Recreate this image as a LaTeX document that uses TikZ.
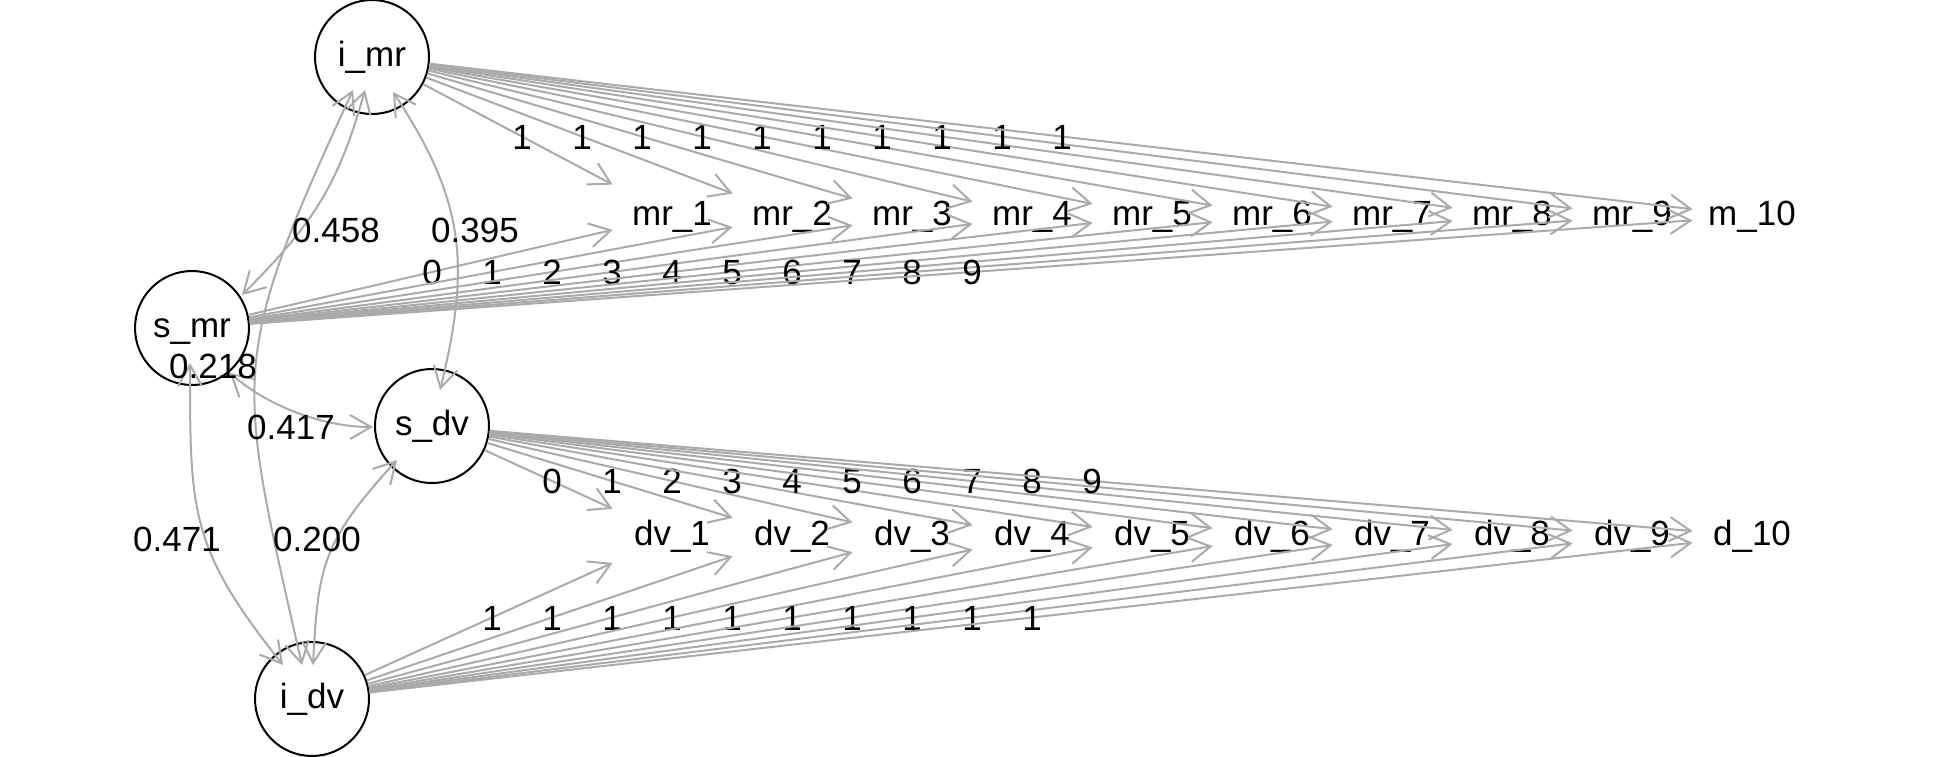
\documentclass[tikz,border=0pt]{standalone}
\usepackage{fontspec}
\setmainfont{Liberation Sans}
\usetikzlibrary{arrows.meta,calc}
\definecolor{edgegray}{RGB}{170,170,170}
\begin{document}
\begin{tikzpicture}[x=0.5pt,y=-0.5pt,
  font=\fontsize{17.5}{21}\selectfont,
  latent/.style={circle, draw=black, line width=1pt, minimum size=57pt, inner sep=0pt, text height=12.5pt, text depth=3pt},
  manifest/.style={rectangle, minimum width=59pt, minimum height=36pt, inner sep=0pt, text height=12.5pt, text depth=3pt},
  lbl/.style={inner sep=0pt, text height=12.5pt, text depth=0pt},
  tipv/.tip={Straight Barb[length=10.5pt,width=12pt]},
  load/.style={draw=edgegray, line width=1pt, -tipv},
  cov/.style={draw=edgegray, line width=1pt, tipv-tipv}]
\useasboundingbox (0,0) rectangle (1944,756);

% latent variables
\node[latent] (imr) at (372,57) {i\_mr};
\node[latent] (smr) at (192,328) {s\_mr};
\node[latent] (sdv) at (432,426) {s\_dv};
\node[latent] (idv) at (312,699) {i\_dv};

% indicators
\foreach \k in {1,...,9}{
  \node[manifest] (mr\k) at ({672+120*(\k-1)},216) {mr\_\k};
  \node[manifest] (dv\k) at ({672+120*(\k-1)},536) {dv\_\k};
}
\node[manifest] (mr10) at (1752,216) {m\_10};
\node[manifest] (dv10) at (1752,536) {d\_10};

% loadings
\foreach \k [evaluate=\k as \v using int(\k-1)] in {1,...,10}{
  \draw[load] (imr) -- (mr\k);
  \draw[load] (smr) -- (mr\k);
  \draw[load] (sdv) -- (dv\k);
  \draw[load] (idv) -- (dv\k);
  \node[lbl] (li\k) at ($(imr)!0.5!(mr\k)$) {1};
  \node[lbl] (ls\k) at ($(smr)!0.5!(mr\k)$) {\v};
  \node[lbl] (lsd\k) at ($(sdv)!0.5!(dv\k)$) {\v};
  \node[lbl] (lid\k) at ($(idv)!0.5!(dv\k)$) {1};
}

% covariances
\draw[cov] ($(imr)+(-7,33)$) .. controls (338,186) and (313,224) .. ($(smr)+(50,-33)$);
\draw[cov] ($(imr)+(-19,33)$) .. controls (227,363) and (236,374) .. ($(idv)+(-10,-34)$);
\draw[cov] ($(imr)+(21,35)$) .. controls (464.5,200) and (471,264) .. ($(sdv)+(8,-36)$);
\draw[cov] ($(smr)+(38,45)$) .. controls (267.5,406) and (323,427) .. ($(sdv)+(-59,1)$);
\draw[cov] ($(smr)+(-2,35)$) .. controls (190,513) and (190,548) .. ($(idv)+(-29,-34)$);
\draw[cov] ($(sdv)+(-35,34)$) .. controls (323,541) and (318,565) .. ($(idv)+(1,-34)$);

\node[lbl] (c1) at (336,230) {0.458};
\node[lbl] (c2) at (213,366) {0.218};
\node[lbl] (c3) at (475,230) {0.395};
\node[lbl] (c4) at (291,427) {0.417};
\node[lbl] (c5) at (177,539) {0.471};
\node[lbl] (c6) at (317,539) {0.200};
\end{tikzpicture}
\end{document}
